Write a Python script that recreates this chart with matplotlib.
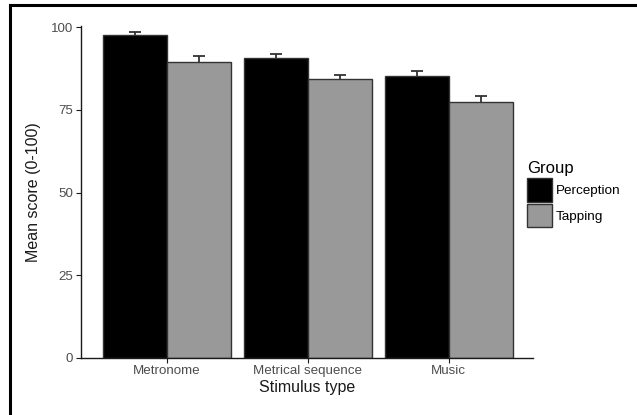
import matplotlib
matplotlib.use("Agg")
import matplotlib.pyplot as plt
import numpy as np
from matplotlib.patches import Patch
from matplotlib.lines import Line2D

INK = "#1a1a1a"
EDGE = "#333333"
TICK = "#4d4d4d"

plt.rcParams.update({
    "font.family": ["Liberation Sans", "DejaVu Sans"],
    "axes.edgecolor": INK,
    "axes.linewidth": 1.0,
})

stimuli = ["Metronome", "Metrical sequence", "Music"]
groups = ["Perception", "Tapping"]
perception_mean = [97.7, 90.6, 85.3]
perception_se = [0.8, 1.3, 1.6]
tapping_mean = [89.4, 84.3, 77.4]
tapping_se = [2.0, 1.3, 1.9]
fills = {"Perception": "#000000", "Tapping": "#999999"}
y_ticks = [0, 25, 50, 75, 100]

fig = plt.figure(figsize=(6.37, 4.15), dpi=100)
ax = fig.add_axes([0.127, 0.138, 0.710, 0.800])

x = np.arange(len(stimuli))
w = 0.454
series = [(perception_mean, perception_se), (tapping_mean, tapping_se)]
for k, (g, (m, se)) in enumerate(zip(groups, series)):
    pos = x + (k - 0.5) * w
    # symmetric bars drawn underneath, so only the upper half shows
    ax.errorbar(pos, m, yerr=se, fmt="none", ecolor=EDGE,
                elinewidth=1.3, capsize=4.6, capthick=1.3, zorder=1)
    ax.bar(pos, m, width=w, color=fills[g], edgecolor=EDGE, linewidth=1.0, zorder=2)

ax.set_xlim(-0.608, 2.598)
ax.set_ylim(0, 100.5)
ax.set_xticks(x)
ax.set_xticklabels(stimuli, fontsize=9.6, color=TICK)
ax.set_yticks(y_ticks)
ax.set_yticklabels([str(t) for t in y_ticks], fontsize=9.6, color=TICK)
ax.tick_params(axis="both", direction="out", length=3.5, width=0.8, color=INK, pad=2)
for s in ("top", "right"):
    ax.spines[s].set_visible(False)
ax.set_xlabel("Stimulus type", fontsize=11.5, color=INK, labelpad=2)
ax.set_ylabel("Mean score (0-100)", fontsize=11.5, color=INK, labelpad=7)

handles = [Patch(facecolor=fills[g], edgecolor=EDGE, linewidth=1.0) for g in groups]
leg = fig.legend(handles, groups, loc="upper left", bbox_to_anchor=(0.827, 0.613),
                 frameon=False, fontsize=9.7, title="Group", title_fontsize=12,
                 handlelength=1.85, handleheight=2.35, handletextpad=0.3,
                 labelspacing=0.15, borderaxespad=0, borderpad=0)
leg._legend_box.align = "left"

# outer frame line along the top and left edges
fig.add_artist(Line2D([10 / 637, 10 / 637], [0, 1 - 5 / 415], transform=fig.transFigure,
                      color="black", linewidth=2.2))
fig.add_artist(Line2D([10 / 637, 1], [1 - 5 / 415, 1 - 5 / 415], transform=fig.transFigure,
                      color="black", linewidth=2.2))

fig.savefig("out.png", dpi=100)
